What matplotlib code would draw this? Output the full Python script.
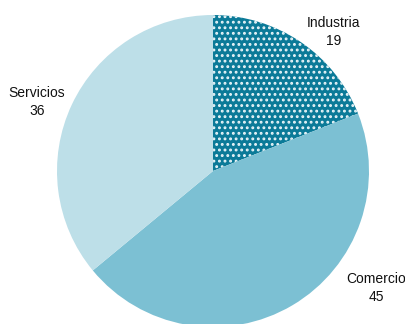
import matplotlib
matplotlib.use("Agg")
import matplotlib.pyplot as plt

# ── Data ──────────────────────────────────────────────────────────────────────
LABELS = ["Industria", "Comercio", "Servicios"]
VALUES = [19, 45, 36]
COLORS = ["#0b7a98", "#7cc0d3", "#bddfe8"]

plt.rcParams["hatch.color"] = "#e8f4f8"
plt.rcParams["hatch.linewidth"] = 1.3

fig = plt.figure(figsize=(4.06, 3.24), dpi=100)
ax = fig.add_axes([0, 0, 1, 1])

wedges, _ = ax.pie(
    VALUES, colors=COLORS, startangle=90, counterclock=False,
    center=(213, 324 - 171), radius=156, frame=True,
    wedgeprops=dict(linewidth=0),
)
ax.set_xlim(0, 406)
ax.set_ylim(0, 324)
ax.axis("off")
wedges[0].set_hatch("...")

# labels placed outside the pie
label_pos = [(334, 324 - 32), (376, 324 - 288), (37, 324 - 102)]
for lab, val, (x, y) in zip(LABELS, VALUES, label_pos):
    ax.text(x, y, f"{lab}\n{val}", ha="center", va="center",
            fontsize=10, family="Liberation Sans",
            color="#111111", linespacing=1.35)

fig.savefig("out.png", dpi=100)
